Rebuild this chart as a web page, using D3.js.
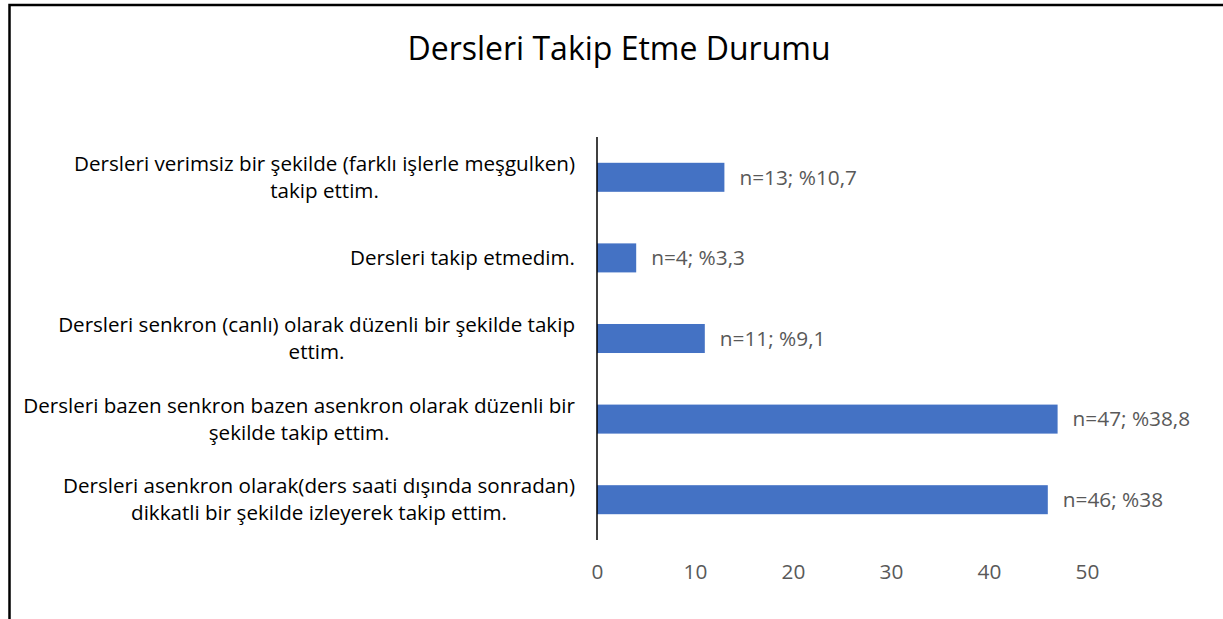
<!DOCTYPE html>
<html>
<head>
  <meta charset="UTF-8">
  <title>Dersleri Takip Etme Durumu</title>
  <script src="https://cdn.jsdelivr.net/npm/d3@7"></script>
  <style>
    body { margin: 0; background: #fff; }
    svg text { font-family: "Open Sans", "Noto Sans", sans-serif; }
    .cat { fill: #000; font-size: 20.6px; }
    .val { fill: #595959; font-size: 20.8px; }
    .tick text { fill: #595959; font-size: 20.8px; }
    .bar { fill: #4472c4; }
  </style>
</head>
<body>

<div id="chart"></div>

<script>
  // categories top to bottom, each line of the label as an entry
  var categories = [
    ['Dersleri verimsiz bir şekilde (farklı işlerle meşgulken)', 'takip ettim.'],
    ['Dersleri takip etmedim.'],
    ['Dersleri senkron (canlı) olarak düzenli bir şekilde takip', 'ettim.'],
    ['Dersleri bazen senkron bazen asenkron olarak düzenli bir', 'şekilde takip ettim.'],
    ['Dersleri asenkron olarak(ders saati dışında sonradan)', 'dikkatli bir şekilde izleyerek takip ettim.']
  ];
  var counts = [13, 4, 11, 47, 46];
  var percents = ['10,7', '3,3', '9,1', '38,8', '38'];
  var xTicks = [0, 10, 20, 30, 40, 50];

  var W = 1223, H = 619;
  var plot = { left: 597, right: 1087, top: 137, bottom: 540 };

  var svg = d3.select('#chart')
    .append('svg')
      .attr('width', W)
      .attr('height', H);

  // frame (left + top edges only are visible)
  svg.append('path')
    .attr('d', 'M9.5,' + H + 'V5H' + W)
    .attr('fill', 'none')
    .attr('stroke', '#000')
    .attr('stroke-width', 2.5);

  svg.append('text')
    .attr('x', 619)
    .attr('y', 60)
    .attr('text-anchor', 'middle')
    .style('font-size', '32px')
    .style('fill', '#000')
    .text('Dersleri Takip Etme Durumu');

  var keys = categories.map((d, i) => i);

  var x = d3.scaleLinear()
    .domain([0, 50])
    .range([plot.left, plot.right]);

  var y = d3.scaleBand()
    .domain(keys)
    .range([plot.top, plot.bottom])
    .paddingInner(0.64)
    .paddingOuter(0.32);

  // x tick labels only, no line or ticks
  var xAxis = d3.axisBottom(x)
    .tickValues(xTicks)
    .tickSize(0)
    .tickPadding(0);

  svg.append('g')
    .attr('transform', 'translate(0, 566)')
    .call(xAxis)
    .call(g => g.select('.domain').remove())
    .selectAll('text')
      .attr('dy', '0.32em')
      .attr('y', 6);

  // bars
  svg.selectAll('rect.bar')
    .data(counts)
    .enter()
    .append('rect')
      .attr('class', 'bar')
      .attr('x', x(0))
      .attr('y', (d, i) => y(i))
      .attr('width', d => x(d) - x(0))
      .attr('height', y.bandwidth());

  // value labels
  svg.selectAll('text.val')
    .data(counts)
    .enter()
    .append('text')
      .attr('class', 'val')
      .attr('x', d => x(d) + 15)
      .attr('y', (d, i) => y(i) + y.bandwidth() / 2)
      .attr('dy', '0.35em')
      .text((d, i) => 'n=' + d + '; %' + percents[i]);

  // vertical axis line
  svg.append('line')
    .attr('x1', x(0)).attr('x2', x(0))
    .attr('y1', plot.top).attr('y2', plot.bottom)
    .attr('stroke', '#000')
    .attr('stroke-width', 1.5);

  // category labels: block right-aligned at 575, lines centred in the block
  var lineH = 27;
  var labelRight = 575;
  categories.forEach(function(lines, i) {
    var g = svg.append('g');
    var cy = y(i) + y.bandwidth() / 2;
    var texts = lines.map(function(t, j) {
      return g.append('text')
        .attr('class', 'cat')
        .attr('y', cy + (j - (lines.length - 1) / 2) * lineH)
        .attr('dy', '0.35em')
        .attr('text-anchor', 'middle')
        .text(t);
    });
    var maxW = d3.max(texts, t => t.node().getComputedTextLength());
    texts.forEach(t => t.attr('x', labelRight - maxW / 2));
  });
</script>

</body>
</html>
